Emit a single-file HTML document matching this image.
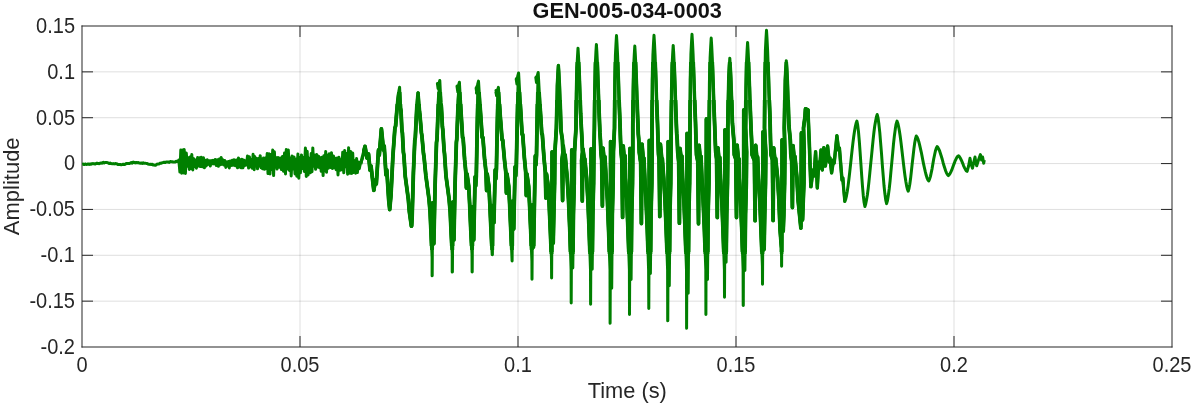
<!DOCTYPE html>
<html><head><meta charset="utf-8"><title>GEN-005-034-0003</title>
<style>
html,body{margin:0;padding:0;background:#fff;}
body{width:1193px;height:404px;overflow:hidden;position:relative;font-family:"Liberation Sans",sans-serif;}
svg text{font-family:"Liberation Sans",sans-serif;}
</style></head><body>
<svg width="1193" height="404" viewBox="0 0 1193 404" style="position:absolute;left:0;top:0;will-change:transform">
<rect width="1193" height="404" fill="#fff"/>
<rect x="299.50" y="26.00" width="1" height="321.00" fill="rgba(38,38,38,0.15)"/>
<rect x="517.50" y="26.00" width="1" height="321.00" fill="rgba(38,38,38,0.15)"/>
<rect x="735.50" y="26.00" width="1" height="321.00" fill="rgba(38,38,38,0.15)"/>
<rect x="953.50" y="26.00" width="1" height="321.00" fill="rgba(38,38,38,0.15)"/>
<rect x="82.00" y="71.36" width="1090.00" height="1" fill="rgba(38,38,38,0.15)"/>
<rect x="82.00" y="117.21" width="1090.00" height="1" fill="rgba(38,38,38,0.15)"/>
<rect x="82.00" y="163.07" width="1090.00" height="1" fill="rgba(38,38,38,0.15)"/>
<rect x="82.00" y="208.93" width="1090.00" height="1" fill="rgba(38,38,38,0.15)"/>
<rect x="82.00" y="254.79" width="1090.00" height="1" fill="rgba(38,38,38,0.15)"/>
<rect x="82.00" y="300.64" width="1090.00" height="1" fill="rgba(38,38,38,0.15)"/>
<rect x="81.50" y="25.50" width="1091.00" height="1" fill="#262626"/>
<rect x="81.50" y="346.50" width="1091.00" height="1" fill="#262626"/>
<rect x="81.50" y="25.50" width="1" height="322.00" fill="#262626"/>
<rect x="1171.50" y="25.50" width="1" height="322.00" fill="#262626"/>
<rect x="299.50" y="26.00" width="1" height="11" fill="#262626"/>
<rect x="299.50" y="336.00" width="1" height="11" fill="#262626"/>
<rect x="517.50" y="26.00" width="1" height="11" fill="#262626"/>
<rect x="517.50" y="336.00" width="1" height="11" fill="#262626"/>
<rect x="735.50" y="26.00" width="1" height="11" fill="#262626"/>
<rect x="735.50" y="336.00" width="1" height="11" fill="#262626"/>
<rect x="953.50" y="26.00" width="1" height="11" fill="#262626"/>
<rect x="953.50" y="336.00" width="1" height="11" fill="#262626"/>
<rect x="82.00" y="71.36" width="11" height="1" fill="#262626"/>
<rect x="1161.00" y="71.36" width="11" height="1" fill="#262626"/>
<rect x="82.00" y="117.21" width="11" height="1" fill="#262626"/>
<rect x="1161.00" y="117.21" width="11" height="1" fill="#262626"/>
<rect x="82.00" y="163.07" width="11" height="1" fill="#262626"/>
<rect x="1161.00" y="163.07" width="11" height="1" fill="#262626"/>
<rect x="82.00" y="208.93" width="11" height="1" fill="#262626"/>
<rect x="1161.00" y="208.93" width="11" height="1" fill="#262626"/>
<rect x="82.00" y="254.79" width="11" height="1" fill="#262626"/>
<rect x="1161.00" y="254.79" width="11" height="1" fill="#262626"/>
<rect x="82.00" y="300.64" width="11" height="1" fill="#262626"/>
<rect x="1161.00" y="300.64" width="11" height="1" fill="#262626"/>
<defs><clipPath id="band"><rect x="362" y="104" width="183" height="142"/><rect x="545" y="100" width="265" height="152"/></clipPath><clipPath id="band2"><rect x="362" y="92" width="183" height="158"/><rect x="545" y="62" width="300" height="192"/></clipPath></defs>
<path d="M82.2 164.2 L83.2 164.1 L84.2 164.6 L85.2 164.0 L86.2 164.4 L87.2 164.3 L88.2 164.0 L89.2 164.4 L90.2 163.9 L91.2 164.2 L92.2 163.7 L93.2 163.6 L94.2 163.8 L95.2 164.1 L96.2 163.3 L97.2 163.3 L98.2 163.6 L99.2 163.7 L100.2 163.2 L101.2 162.9 L102.2 163.3 L103.2 162.3 L104.2 163.0 L105.2 162.5 L106.2 162.5 L107.2 162.6 L108.2 162.9 L109.2 163.6 L110.2 163.1 L111.2 163.6 L112.2 163.8 L113.2 163.6 L114.2 163.9 L115.2 163.6 L116.2 163.7 L117.2 164.0 L118.2 164.6 L119.2 164.4 L120.2 164.4 L121.2 164.8 L122.2 164.6 L123.2 164.2 L124.2 164.5 L125.2 164.2 L126.2 163.5 L127.2 163.6 L128.2 163.4 L129.2 163.6 L130.2 163.2 L131.2 162.6 L132.2 163.1 L133.2 162.1 L134.2 162.5 L135.2 162.9 L136.2 162.4 L137.2 162.8 L138.2 162.4 L139.2 163.1 L140.2 163.2 L141.2 163.0 L142.2 163.4 L143.2 162.8 L144.2 163.3 L145.2 163.2 L146.2 163.4 L147.2 163.5 L148.2 164.1 L149.2 164.4 L150.2 164.2 L151.2 164.6 L152.2 164.2 L153.2 165.0 L154.2 165.1 L155.2 165.3 L156.2 164.8 L157.2 164.1 L158.2 163.9 L159.2 164.0 L160.2 163.1 L161.2 163.3 L162.2 162.7 L163.2 162.5 L164.2 162.2 L165.2 162.6 L166.2 161.9 L167.2 161.9 L168.2 162.0 L169.2 162.4 L170.2 161.5 L171.2 161.8 L172.2 161.8 L173.2 162.1 L174.2 162.0 L175.2 162.0 L176.2 161.3 L177.2 161.4 L178.2 161.3 L178.8 160.0 L179.9 172.1 L180.8 150.1 L181.6 173.3 L182.6 150.1 L183.3 172.9 L184.2 149.5 L185.4 173.5 L186.3 153.0 L187.3 166.2 L188.4 157.8 L189.3 169.4 L190.1 157.0 L191.0 168.5 L191.8 154.6 L192.8 170.0 L193.7 158.8 L194.8 166.6 L195.6 159.9 L196.4 168.2 L197.6 157.6 L198.3 166.0 L199.4 157.8 L200.2 166.6 L201.3 157.3 L202.4 166.8 L203.5 157.8 L204.4 167.8 L205.3 160.3 L206.2 165.9 L207.3 159.7 L208.2 164.4 L209.3 160.7 L210.3 166.0 L211.4 160.6 L212.3 163.8 L213.2 160.4 L214.1 163.9 L215.2 159.5 L216.3 165.5 L217.4 159.7 L218.4 166.3 L219.4 158.9 L220.3 164.7 L221.2 157.5 L222.1 164.2 L222.9 159.7 L223.9 165.1 L224.8 160.4 L225.8 167.4 L226.6 161.9 L227.4 166.1 L228.4 161.4 L229.3 167.9 L230.2 161.0 L231.2 165.5 L232.3 160.3 L233.2 165.3 L234.1 159.8 L235.3 165.8 L236.4 160.0 L237.5 167.8 L238.5 157.9 L239.5 167.0 L240.3 159.7 L241.1 167.8 L241.9 159.3 L242.9 167.8 L243.7 160.1 L244.6 165.8 L245.6 160.7 L246.5 165.0 L247.5 156.0 L248.6 168.1 L249.4 156.7 L250.3 166.7 L251.1 159.4 L252.1 168.2 L253.1 154.3 L254.2 169.7 L254.9 156.8 L255.8 166.0 L256.7 158.5 L257.5 168.8 L258.3 158.5 L259.4 166.1 L260.2 155.7 L261.0 167.7 L261.8 159.0 L262.6 168.8 L263.5 158.0 L264.5 169.3 L265.4 158.0 L266.4 168.6 L267.2 153.6 L268.0 173.6 L269.1 153.8 L270.0 174.0 L270.8 154.5 L271.8 169.5 L272.7 150.1 L273.6 175.6 L274.4 151.8 L275.1 167.1 L276.0 157.4 L277.0 169.0 L278.1 157.4 L279.3 167.3 L280.3 158.0 L281.4 169.6 L282.5 156.4 L283.4 171.2 L284.5 153.0 L285.5 174.0 L286.3 149.5 L287.3 168.9 L288.3 149.9 L289.4 170.5 L290.4 158.2 L291.2 176.0 L292.1 156.0 L293.0 169.0 L294.0 156.9 L295.0 173.9 L296.1 159.3 L296.8 176.2 L297.9 154.1 L298.8 178.2 L299.6 157.8 L300.4 172.8 L301.5 154.9 L302.7 168.6 L303.5 157.4 L304.3 171.5 L305.4 148.1 L306.3 176.4 L307.2 151.2 L308.1 174.9 L309.2 158.3 L310.2 172.8 L311.2 153.6 L312.0 171.8 L312.8 147.9 L313.7 166.3 L314.5 155.1 L315.6 169.3 L316.7 154.4 L317.8 167.1 L318.7 156.3 L319.6 167.8 L320.4 157.7 L321.2 171.3 L322.1 157.3 L323.1 175.6 L323.9 155.7 L324.7 170.7 L325.7 151.5 L326.5 172.3 L327.5 155.3 L328.4 168.2 L329.3 153.7 L330.5 167.4 L331.5 152.8 L332.3 168.5 L333.5 155.9 L334.2 167.7 L335.3 158.3 L336.1 169.7 L337.2 157.9 L338.0 175.0 L339.0 157.3 L340.0 170.3 L341.0 159.7 L341.9 169.8 L342.7 152.3 L343.8 172.8 L344.7 150.4 L345.5 166.8 L346.6 153.6 L347.6 174.2 L348.6 147.7 L349.6 173.3 L350.7 151.6 L351.7 173.4 L352.7 153.1 L353.6 172.4 L354.6 160.7 L355.6 173.2 L356.6 158.6 L357.4 172.6 L358.2 161.9 L359.3 168.8 L360.0 165.3 L362.0 158.0 L365.0 146.4 L367.0 158.0 L368.5 154.0 L370.0 170.0 L371.0 166.0 L373.8 190.4 L375.5 180.0 L376.3 184.0 L378.5 150.0 L379.3 155.0 L381.4 128.8 L383.5 150.0 L384.2 146.0 L386.0 175.0 L386.8 170.0 L388.7 200.0 L389.7 209.5 L391.0 195.0 L392.9 156.2 L394.9 128.2 L395.6 126.0 L397.7 100.1 L398.9 91.0 L399.6 87.2 L400.5 107.9 L401.0 110.9 L401.9 130.1 L402.4 133.1 L403.4 152.3 L403.9 155.3 L405.2 176.0 L408.3 199.0 L409.4 212.0 L411.4 226.2 L411.6 226.2 L412.1 218.2 L413.4 172.9 L414.8 140.2 L415.3 137.7 L416.8 107.5 L417.6 96.8 L418.1 92.4 L419.5 111.8 L419.9 114.8 L421.4 132.7 L421.9 135.7 L423.5 153.6 L424.0 156.6 L425.9 176.0 L429.0 199.0 L430.1 212.0 L431.0 232.0 L432.1 257.8 L432.1 275.8 L432.2 275.8 L432.6 203.0 L433.3 223.9 L433.8 243.8 L435.1 185.0 L436.5 142.6 L437.0 139.3 L438.5 100.1 L439.3 86.2 L437.4 83.5 L438.1 88.5 L439.0 83.5 L439.8 80.5 L440.9 102.9 L441.3 105.9 L442.4 126.8 L442.8 129.8 L444.1 150.6 L444.5 153.6 L446.0 176.0 L449.1 199.0 L450.2 212.0 L451.1 232.0 L452.2 254.0 L452.2 272.0 L452.4 272.0 L452.8 202.1 L453.4 222.0 L453.9 240.0 L455.1 183.2 L456.4 142.2 L456.8 139.0 L458.2 101.1 L459.0 87.7 L457.0 86.2 L457.7 91.2 L458.6 85.2 L459.4 82.2 L461.0 111.8 L462.6 137.9 L463.1 137.9 L464.6 159.4 L465.8 172.0 L466.4 188.0 L467.0 174.0 L468.7 186.0 L469.6 203.0 L470.8 230.0 L472.0 254.0 L472.1 272.0 L472.2 272.0 L472.6 206.6 L473.2 222.0 L473.7 240.0 L475.1 177.0 L475.7 186.0 L476.3 176.0 L477.4 119.1 L478.1 90.6 L478.3 83.9 L476.1 88.1 L476.8 93.1 L477.7 84.1 L478.5 81.1 L480.4 111.1 L482.2 137.5 L482.9 137.5 L484.6 159.3 L486.0 172.0 L486.6 190.5 L487.2 174.0 L488.9 186.0 L489.8 203.0 L491.0 230.0 L492.2 254.8 L492.4 254.8 L492.8 205.5 L493.4 213.4 L493.9 222.8 L495.2 170.0 L495.8 179.0 L496.4 169.0 L497.4 120.0 L498.0 95.6 L498.3 89.8 L496.0 90.4 L496.7 95.4 L497.6 90.4 L498.4 87.4 L500.2 115.3 L502.1 139.9 L502.7 139.9 L504.5 160.2 L505.8 172.0 L506.4 193.0 L507.0 174.0 L508.7 186.0 L509.6 203.0 L510.8 230.0 L512.1 261.0 L512.1 261.0 L512.6 201.2 L513.2 216.5 L513.7 229.0 L515.1 167.0 L515.7 176.0 L516.3 166.0 L517.5 110.2 L518.1 82.3 L518.4 75.8 L516.2 79.0 L516.9 84.0 L517.8 76.0 L518.6 73.0 L520.4 105.7 L522.1 134.4 L522.7 134.4 L524.4 158.1 L525.7 172.0 L526.3 195.5 L526.9 174.0 L528.6 186.0 L529.5 203.0 L530.7 230.0 L531.9 261.3 L532.0 279.3 L532.0 279.3 L532.5 205.0 L533.1 225.7 L533.6 247.3 L535.3 156.0 L535.9 165.0 L536.5 155.0 L537.4 105.5 L537.9 80.8 L538.1 75.0 L535.8 77.5 L536.5 82.5 L537.4 75.5 L538.2 72.5 L540.0 105.3 L541.8 134.2 L542.3 134.2 L544.0 158.1 L545.3 172.0 L545.9 198.0 L546.5 174.0 L548.2 186.0 L549.1 203.0 L550.3 230.0 L551.5 260.0 L551.6 278.0 L551.6 278.0 L552.0 215.0 L552.1 152.0 L552.8 197.5 L553.2 243.0 L553.8 215.0 L554.6 183.0 L554.9 152.0 L556.4 128.0 L556.8 110.5 L557.3 85.5 L557.9 73.5 L558.4 65.5 L558.9 73.5 L559.5 85.5 L560.4 110.5 L561.0 130.5 L562.4 140.0 L562.9 152.5 L561.9 160.5 L562.6 200.5 L563.2 145.7 L564.6 159.7 L565.1 155.0 L567.2 178.0 L568.5 200.0 L569.8 230.0 L571.1 270.0 L571.2 303.1 L571.2 303.1 L571.6 226.6 L571.8 150.0 L572.4 209.1 L572.8 268.1 L573.4 215.0 L574.2 183.0 L574.5 152.0 L576.0 128.0 L576.4 93.2 L576.9 68.2 L577.5 56.2 L578.0 48.2 L578.5 56.2 L579.1 68.2 L580.0 93.2 L580.6 113.2 L582.0 140.0 L582.5 152.1 L581.6 160.4 L582.3 201.0 L582.9 148.8 L584.3 159.5 L584.8 158.9 L586.6 178.0 L587.9 200.0 L589.1 230.0 L590.5 270.0 L590.6 304.3 L590.6 304.3 L591.0 226.7 L591.1 149.0 L591.8 209.2 L592.2 269.3 L592.8 215.0 L593.6 183.0 L593.9 152.0 L594.4 128.0 L594.8 89.4 L595.3 64.4 L595.9 52.4 L596.4 44.4 L596.9 52.4 L597.5 64.4 L598.4 89.4 L599.0 109.4 L599.9 132.4 L600.4 140.0 L600.9 151.8 L601.7 160.4 L602.4 206.0 L603.0 148.1 L604.4 162.3 L604.9 156.7 L606.1 178.0 L607.4 200.0 L608.6 230.0 L610.0 270.0 L610.1 323.2 L610.1 323.2 L610.5 232.4 L610.6 141.6 L611.2 214.9 L611.7 288.2 L612.3 215.0 L613.1 183.0 L613.4 152.0 L614.5 128.0 L614.9 80.6 L615.4 55.6 L616.0 43.6 L616.5 35.6 L617.0 43.6 L617.6 55.6 L618.5 80.6 L619.1 100.6 L620.0 123.6 L620.5 140.0 L621.0 151.2 L621.9 160.9 L622.6 217.4 L623.2 145.9 L624.6 162.7 L625.1 155.8 L625.5 178.0 L626.8 200.0 L628.0 230.0 L629.4 270.0 L629.5 314.4 L629.5 314.4 L629.9 231.4 L630.0 148.5 L630.6 213.9 L631.1 279.4 L631.7 215.0 L632.5 183.0 L632.8 152.0 L632.8 128.0 L633.2 91.1 L633.7 66.1 L634.3 54.1 L634.8 46.1 L635.3 54.1 L635.9 66.1 L636.8 91.1 L637.4 111.1 L638.3 134.1 L638.8 140.0 L639.3 152.5 L640.7 162.6 L641.4 223.6 L642.0 144.2 L643.4 160.6 L643.9 158.2 L644.8 178.0 L646.0 200.0 L647.3 230.0 L648.6 270.0 L648.8 308.6 L648.8 308.6 L649.1 224.5 L649.3 140.4 L649.9 207.0 L650.4 273.6 L651.0 215.0 L651.8 183.0 L652.1 152.0 L652.0 128.0 L652.4 80.3 L652.9 55.3 L653.5 43.3 L654.0 35.3 L654.5 43.3 L655.1 55.3 L656.0 80.3 L656.6 100.3 L657.5 123.3 L658.0 140.0 L658.5 154.1 L659.1 159.2 L659.8 216.5 L660.4 144.2 L661.8 159.3 L662.3 158.7 L663.7 178.0 L665.0 200.0 L666.2 230.0 L667.6 270.0 L667.7 320.7 L667.8 320.7 L668.1 231.1 L668.2 141.6 L668.9 213.6 L669.3 285.7 L669.9 215.0 L670.7 183.0 L671.0 152.0 L671.2 128.0 L671.6 90.4 L672.1 65.4 L672.7 53.4 L673.2 45.4 L673.7 53.4 L674.3 65.4 L675.2 90.4 L675.8 110.4 L676.7 133.4 L677.2 140.0 L677.7 152.0 L678.7 162.0 L679.4 223.2 L680.0 148.5 L681.4 160.4 L681.9 156.1 L682.6 178.0 L683.9 200.0 L685.1 230.0 L686.5 270.0 L686.6 328.2 L686.6 328.2 L687.0 230.8 L687.1 133.4 L687.8 213.3 L688.2 293.2 L688.8 215.0 L689.6 183.0 L689.9 152.0 L690.0 128.0 L690.4 79.3 L690.9 54.3 L691.5 42.3 L692.0 34.3 L692.5 42.3 L693.1 54.3 L694.0 79.3 L694.6 99.3 L695.5 122.3 L696.0 140.0 L696.5 154.8 L697.8 161.5 L698.5 223.8 L699.1 145.3 L700.5 161.9 L701.0 156.3 L701.9 178.0 L703.1 200.0 L704.4 230.0 L705.8 270.0 L705.9 314.4 L705.9 314.4 L706.2 216.7 L706.4 119.0 L707.0 199.2 L707.5 279.4 L708.1 215.0 L708.9 183.0 L709.2 152.0 L709.2 128.0 L709.6 83.1 L710.1 58.1 L710.7 46.1 L711.2 38.1 L711.7 46.1 L712.3 58.1 L713.2 83.1 L713.8 103.1 L714.7 126.1 L715.2 140.0 L715.7 152.1 L716.6 159.0 L717.3 217.6 L717.9 147.8 L719.3 162.7 L719.8 157.5 L720.5 178.0 L721.8 200.0 L723.0 230.0 L724.4 270.0 L724.5 297.3 L724.5 297.3 L724.9 213.7 L725.0 130.0 L725.6 196.2 L726.1 262.3 L726.7 215.0 L727.5 183.0 L727.8 152.0 L727.8 128.0 L728.2 103.2 L728.7 78.2 L729.3 66.2 L729.8 58.2 L730.3 66.2 L730.9 78.2 L731.8 103.2 L732.4 123.2 L733.8 140.0 L734.3 154.8 L735.8 159.1 L736.5 217.6 L737.1 145.2 L738.5 160.9 L739.0 158.8 L739.3 178.0 L740.5 200.0 L741.8 230.0 L743.1 270.0 L743.2 305.6 L743.3 305.6 L743.6 207.8 L743.8 110.0 L744.4 190.3 L744.9 270.6 L745.5 215.0 L746.3 183.0 L746.6 152.0 L745.6 128.0 L746.0 87.4 L746.5 62.4 L747.1 50.4 L747.6 42.4 L748.1 50.4 L748.7 62.4 L749.6 87.4 L750.2 107.4 L751.1 130.4 L751.6 140.0 L752.1 154.8 L754.4 160.5 L755.1 220.7 L755.7 145.3 L757.1 160.7 L757.6 157.0 L758.5 178.0 L759.8 200.0 L761.0 230.0 L762.4 266.2 L762.5 284.2 L762.5 284.2 L762.9 208.1 L763.0 132.0 L763.6 190.6 L764.1 249.2 L764.7 215.0 L765.5 183.0 L765.8 152.0 L764.5 128.0 L764.9 75.3 L765.4 50.3 L766.0 38.3 L766.5 30.3 L767.0 38.3 L767.6 50.3 L768.5 75.3 L769.1 95.3 L770.0 118.3 L770.5 140.0 L771.0 154.7 L772.4 159.7 L773.1 220.5 L773.7 148.0 L775.1 162.0 L775.6 158.3 L777.6 178.0 L778.9 200.0 L780.1 230.0 L781.5 248.2 L781.6 266.2 L781.6 266.2 L782.0 203.1 L782.1 140.0 L782.8 185.6 L783.2 231.2 L783.8 215.0 L784.6 183.0 L784.9 152.0 L784.3 128.0 L784.7 105.7 L785.2 80.7 L785.8 68.7 L786.3 60.7 L786.8 68.7 L787.4 80.7 L788.3 105.7 L788.9 125.7 L790.3 140.0 L790.8 154.1 L791.7 161.4 L792.4 207.5 L793.0 145.6 L794.4 160.3 L794.9 156.4 L796.9 178.0 L798.1 200.0 L800.9 228.0 L800.9 228.0 L801.2 180.5 L801.4 133.0 L802.0 176.5 L802.5 220.0 L803.9 183.0 L804.2 152.0 L803.5 128.0 L805.0 116.8 L805.5 108.8 L808.0 110.0 L809.3 140.0 L811.0 186.7 L813.0 170.0 L814.0 176.0 L815.6 151.7 L817.3 188.0 L818.8 162.0 L819.6 168.0 L821.0 150.0 L822.3 170.0 L823.8 147.6 L825.4 166.0 L827.6 146.0 L829.3 162.0 L830.0 158.0 L831.6 172.9 L833.5 160.0 L834.2 163.0 L836.9 135.7 L838.6 150.0 L839.4 148.0 L842.0 180.0 L842.8 178.0 L844.9 201.4 L845.7 199.2 L846.5 195.8 L847.3 191.2 L848.1 185.7 L848.9 179.3 L849.7 172.3 L850.5 165.0 L851.3 157.5 L852.1 150.2 L852.9 143.2 L853.7 136.8 L854.5 131.3 L855.3 126.7 L856.1 123.3 L856.9 121.1 L857.7 125.1 L858.5 131.9 L859.3 141.1 L860.1 152.0 L860.9 163.8 L861.7 175.6 L862.5 186.5 L863.3 195.7 L864.1 202.5 L864.9 206.5 L865.7 204.0 L866.5 200.0 L867.4 194.8 L868.2 188.5 L869.0 181.2 L869.8 173.2 L870.6 164.8 L871.5 156.2 L872.3 147.8 L873.1 139.8 L873.9 132.5 L874.7 126.2 L875.6 121.0 L876.4 117.0 L877.2 114.5 L878.1 118.2 L878.9 124.3 L879.8 132.6 L880.6 142.5 L881.5 153.4 L882.3 164.7 L883.2 175.6 L884.0 185.5 L884.9 193.8 L885.7 199.9 L886.6 203.6 L887.5 200.6 L888.3 195.6 L889.2 189.0 L890.1 180.9 L890.9 171.9 L891.8 162.3 L892.7 152.8 L893.5 143.8 L894.4 135.7 L895.3 129.1 L896.1 124.1 L897.0 121.1 L897.8 123.2 L898.6 126.5 L899.4 131.0 L900.2 136.3 L901.0 142.5 L901.8 149.2 L902.6 156.1 L903.4 163.1 L904.2 169.8 L905.0 176.0 L905.8 181.3 L906.6 185.8 L907.4 189.1 L908.2 191.2 L909.0 188.6 L909.8 184.2 L910.6 178.3 L911.4 171.2 L912.2 163.6 L913.1 156.0 L913.9 148.9 L914.7 143.0 L915.5 138.6 L916.3 136.0 L917.1 137.2 L918.0 139.2 L918.8 141.7 L919.6 144.8 L920.4 148.4 L921.3 152.3 L922.1 156.4 L922.9 160.6 L923.7 164.7 L924.6 168.6 L925.4 172.2 L926.2 175.3 L927.0 177.8 L927.9 179.8 L928.7 181.0 L929.5 179.4 L930.4 176.6 L931.2 172.9 L932.1 168.6 L932.9 163.8 L933.7 159.0 L934.6 154.7 L935.4 151.0 L936.3 148.2 L937.1 146.6 L938.0 147.6 L938.8 149.1 L939.7 151.2 L940.5 153.7 L941.4 156.5 L942.3 159.5 L943.1 162.7 L944.0 165.7 L944.9 168.5 L945.7 171.0 L946.6 173.1 L947.4 174.6 L948.3 175.6 L949.1 174.9 L950.0 173.7 L950.8 172.1 L951.7 170.2 L952.5 168.0 L953.3 165.7 L954.2 163.4 L955.0 161.2 L955.9 159.3 L956.7 157.7 L957.6 156.5 L958.4 155.8 L959.3 156.5 L960.1 157.8 L961.0 159.5 L961.9 161.4 L962.8 163.6 L963.6 165.8 L964.5 167.7 L965.4 169.4 L966.2 170.7 L967.1 171.4 L968.6 166.0 L970.0 158.3 L971.0 164.0 L972.5 168.2 L973.8 162.0 L975.0 157.0 L975.9 163.0 L976.7 165.7 L978.5 160.0 L980.4 154.6 L981.5 160.0 L982.6 157.0 L983.7 163.2 L984.3 160.0" fill="none" stroke="#007f00" stroke-width="3" stroke-linejoin="round" stroke-linecap="butt"/>
<path d="M360.0 165.3 L362.0 158.0 L365.0 146.4 L367.0 158.0 L368.5 154.0 L370.0 170.0 L371.0 166.0 L373.8 190.4 L375.5 180.0 L376.3 184.0 L378.5 150.0 L379.3 155.0 L381.4 128.8 L383.5 150.0 L384.2 146.0 L386.0 175.0 L386.8 170.0 L388.7 200.0 L389.7 209.5 L391.0 195.0 L392.9 156.2 L394.9 128.2 L395.6 126.0 L397.7 100.1 L398.9 91.0 L399.6 87.2 L400.5 107.9 L401.0 110.9 L401.9 130.1 L402.4 133.1 L403.4 152.3 L403.9 155.3 L405.2 176.0 L408.3 199.0 L409.4 212.0 L411.4 226.2 L411.6 226.2 L412.1 218.2 L413.4 172.9 L414.8 140.2 L415.3 137.7 L416.8 107.5 L417.6 96.8 L418.1 92.4 L419.5 111.8 L419.9 114.8 L421.4 132.7 L421.9 135.7 L423.5 153.6 L424.0 156.6 L425.9 176.0 L429.0 199.0 L430.1 212.0 L431.0 232.0 L432.1 257.8 L432.1 275.8 L432.2 275.8 L432.6 203.0 L433.3 223.9 L433.8 243.8 L435.1 185.0 L436.5 142.6 L437.0 139.3 L438.5 100.1 L439.3 86.2 L437.4 83.5 L438.1 88.5 L439.0 83.5 L439.8 80.5 L440.9 102.9 L441.3 105.9 L442.4 126.8 L442.8 129.8 L444.1 150.6 L444.5 153.6 L446.0 176.0 L449.1 199.0 L450.2 212.0 L451.1 232.0 L452.2 254.0 L452.2 272.0 L452.4 272.0 L452.8 202.1 L453.4 222.0 L453.9 240.0 L455.1 183.2 L456.4 142.2 L456.8 139.0 L458.2 101.1 L459.0 87.7 L457.0 86.2 L457.7 91.2 L458.6 85.2 L459.4 82.2 L461.0 111.8 L462.6 137.9 L463.1 137.9 L464.6 159.4 L465.8 172.0 L466.4 188.0 L467.0 174.0 L468.7 186.0 L469.6 203.0 L470.8 230.0 L472.0 254.0 L472.1 272.0 L472.2 272.0 L472.6 206.6 L473.2 222.0 L473.7 240.0 L475.1 177.0 L475.7 186.0 L476.3 176.0 L477.4 119.1 L478.1 90.6 L478.3 83.9 L476.1 88.1 L476.8 93.1 L477.7 84.1 L478.5 81.1 L480.4 111.1 L482.2 137.5 L482.9 137.5 L484.6 159.3 L486.0 172.0 L486.6 190.5 L487.2 174.0 L488.9 186.0 L489.8 203.0 L491.0 230.0 L492.2 254.8 L492.4 254.8 L492.8 205.5 L493.4 213.4 L493.9 222.8 L495.2 170.0 L495.8 179.0 L496.4 169.0 L497.4 120.0 L498.0 95.6 L498.3 89.8 L496.0 90.4 L496.7 95.4 L497.6 90.4 L498.4 87.4 L500.2 115.3 L502.1 139.9 L502.7 139.9 L504.5 160.2 L505.8 172.0 L506.4 193.0 L507.0 174.0 L508.7 186.0 L509.6 203.0 L510.8 230.0 L512.1 261.0 L512.1 261.0 L512.6 201.2 L513.2 216.5 L513.7 229.0 L515.1 167.0 L515.7 176.0 L516.3 166.0 L517.5 110.2 L518.1 82.3 L518.4 75.8 L516.2 79.0 L516.9 84.0 L517.8 76.0 L518.6 73.0 L520.4 105.7 L522.1 134.4 L522.7 134.4 L524.4 158.1 L525.7 172.0 L526.3 195.5 L526.9 174.0 L528.6 186.0 L529.5 203.0 L530.7 230.0 L531.9 261.3 L532.0 279.3 L532.0 279.3 L532.5 205.0 L533.1 225.7 L533.6 247.3 L535.3 156.0 L535.9 165.0 L536.5 155.0 L537.4 105.5 L537.9 80.8 L538.1 75.0 L535.8 77.5 L536.5 82.5 L537.4 75.5 L538.2 72.5 L540.0 105.3 L541.8 134.2 L542.3 134.2 L544.0 158.1 L545.3 172.0 L545.9 198.0 L546.5 174.0 L548.2 186.0 L549.1 203.0 L550.3 230.0 L551.5 260.0 L551.6 278.0 L551.6 278.0 L552.0 215.0 L552.1 152.0 L552.8 197.5 L553.2 243.0 L553.8 215.0 L554.6 183.0 L554.9 152.0 L556.4 128.0 L556.8 110.5 L557.3 85.5 L557.9 73.5 L558.4 65.5 L558.9 73.5 L559.5 85.5 L560.4 110.5 L561.0 130.5 L562.4 140.0 L562.9 152.5 L561.9 160.5 L562.6 200.5 L563.2 145.7 L564.6 159.7 L565.1 155.0 L567.2 178.0 L568.5 200.0 L569.8 230.0 L571.1 270.0 L571.2 303.1 L571.2 303.1 L571.6 226.6 L571.8 150.0 L572.4 209.1 L572.8 268.1 L573.4 215.0 L574.2 183.0 L574.5 152.0 L576.0 128.0 L576.4 93.2 L576.9 68.2 L577.5 56.2 L578.0 48.2 L578.5 56.2 L579.1 68.2 L580.0 93.2 L580.6 113.2 L582.0 140.0 L582.5 152.1 L581.6 160.4 L582.3 201.0 L582.9 148.8 L584.3 159.5 L584.8 158.9 L586.6 178.0 L587.9 200.0 L589.1 230.0 L590.5 270.0 L590.6 304.3 L590.6 304.3 L591.0 226.7 L591.1 149.0 L591.8 209.2 L592.2 269.3 L592.8 215.0 L593.6 183.0 L593.9 152.0 L594.4 128.0 L594.8 89.4 L595.3 64.4 L595.9 52.4 L596.4 44.4 L596.9 52.4 L597.5 64.4 L598.4 89.4 L599.0 109.4 L599.9 132.4 L600.4 140.0 L600.9 151.8 L601.7 160.4 L602.4 206.0 L603.0 148.1 L604.4 162.3 L604.9 156.7 L606.1 178.0 L607.4 200.0 L608.6 230.0 L610.0 270.0 L610.1 323.2 L610.1 323.2 L610.5 232.4 L610.6 141.6 L611.2 214.9 L611.7 288.2 L612.3 215.0 L613.1 183.0 L613.4 152.0 L614.5 128.0 L614.9 80.6 L615.4 55.6 L616.0 43.6 L616.5 35.6 L617.0 43.6 L617.6 55.6 L618.5 80.6 L619.1 100.6 L620.0 123.6 L620.5 140.0 L621.0 151.2 L621.9 160.9 L622.6 217.4 L623.2 145.9 L624.6 162.7 L625.1 155.8 L625.5 178.0 L626.8 200.0 L628.0 230.0 L629.4 270.0 L629.5 314.4 L629.5 314.4 L629.9 231.4 L630.0 148.5 L630.6 213.9 L631.1 279.4 L631.7 215.0 L632.5 183.0 L632.8 152.0 L632.8 128.0 L633.2 91.1 L633.7 66.1 L634.3 54.1 L634.8 46.1 L635.3 54.1 L635.9 66.1 L636.8 91.1 L637.4 111.1 L638.3 134.1 L638.8 140.0 L639.3 152.5 L640.7 162.6 L641.4 223.6 L642.0 144.2 L643.4 160.6 L643.9 158.2 L644.8 178.0 L646.0 200.0 L647.3 230.0 L648.6 270.0 L648.8 308.6 L648.8 308.6 L649.1 224.5 L649.3 140.4 L649.9 207.0 L650.4 273.6 L651.0 215.0 L651.8 183.0 L652.1 152.0 L652.0 128.0 L652.4 80.3 L652.9 55.3 L653.5 43.3 L654.0 35.3 L654.5 43.3 L655.1 55.3 L656.0 80.3 L656.6 100.3 L657.5 123.3 L658.0 140.0 L658.5 154.1 L659.1 159.2 L659.8 216.5 L660.4 144.2 L661.8 159.3 L662.3 158.7 L663.7 178.0 L665.0 200.0 L666.2 230.0 L667.6 270.0 L667.7 320.7 L667.8 320.7 L668.1 231.1 L668.2 141.6 L668.9 213.6 L669.3 285.7 L669.9 215.0 L670.7 183.0 L671.0 152.0 L671.2 128.0 L671.6 90.4 L672.1 65.4 L672.7 53.4 L673.2 45.4 L673.7 53.4 L674.3 65.4 L675.2 90.4 L675.8 110.4 L676.7 133.4 L677.2 140.0 L677.7 152.0 L678.7 162.0 L679.4 223.2 L680.0 148.5 L681.4 160.4 L681.9 156.1 L682.6 178.0 L683.9 200.0 L685.1 230.0 L686.5 270.0 L686.6 328.2 L686.6 328.2 L687.0 230.8 L687.1 133.4 L687.8 213.3 L688.2 293.2 L688.8 215.0 L689.6 183.0 L689.9 152.0 L690.0 128.0 L690.4 79.3 L690.9 54.3 L691.5 42.3 L692.0 34.3 L692.5 42.3 L693.1 54.3 L694.0 79.3 L694.6 99.3 L695.5 122.3 L696.0 140.0 L696.5 154.8 L697.8 161.5 L698.5 223.8 L699.1 145.3 L700.5 161.9 L701.0 156.3 L701.9 178.0 L703.1 200.0 L704.4 230.0 L705.8 270.0 L705.9 314.4 L705.9 314.4 L706.2 216.7 L706.4 119.0 L707.0 199.2 L707.5 279.4 L708.1 215.0 L708.9 183.0 L709.2 152.0 L709.2 128.0 L709.6 83.1 L710.1 58.1 L710.7 46.1 L711.2 38.1 L711.7 46.1 L712.3 58.1 L713.2 83.1 L713.8 103.1 L714.7 126.1 L715.2 140.0 L715.7 152.1 L716.6 159.0 L717.3 217.6 L717.9 147.8 L719.3 162.7 L719.8 157.5 L720.5 178.0 L721.8 200.0 L723.0 230.0 L724.4 270.0 L724.5 297.3 L724.5 297.3 L724.9 213.7 L725.0 130.0 L725.6 196.2 L726.1 262.3 L726.7 215.0 L727.5 183.0 L727.8 152.0 L727.8 128.0 L728.2 103.2 L728.7 78.2 L729.3 66.2 L729.8 58.2 L730.3 66.2 L730.9 78.2 L731.8 103.2 L732.4 123.2 L733.8 140.0 L734.3 154.8 L735.8 159.1 L736.5 217.6 L737.1 145.2 L738.5 160.9 L739.0 158.8 L739.3 178.0 L740.5 200.0 L741.8 230.0 L743.1 270.0 L743.2 305.6 L743.3 305.6 L743.6 207.8 L743.8 110.0 L744.4 190.3 L744.9 270.6 L745.5 215.0 L746.3 183.0 L746.6 152.0 L745.6 128.0 L746.0 87.4 L746.5 62.4 L747.1 50.4 L747.6 42.4 L748.1 50.4 L748.7 62.4 L749.6 87.4 L750.2 107.4 L751.1 130.4 L751.6 140.0 L752.1 154.8 L754.4 160.5 L755.1 220.7 L755.7 145.3 L757.1 160.7 L757.6 157.0 L758.5 178.0 L759.8 200.0 L761.0 230.0 L762.4 266.2 L762.5 284.2 L762.5 284.2 L762.9 208.1 L763.0 132.0 L763.6 190.6 L764.1 249.2 L764.7 215.0 L765.5 183.0 L765.8 152.0 L764.5 128.0 L764.9 75.3 L765.4 50.3 L766.0 38.3 L766.5 30.3 L767.0 38.3 L767.6 50.3 L768.5 75.3 L769.1 95.3 L770.0 118.3 L770.5 140.0 L771.0 154.7 L772.4 159.7 L773.1 220.5 L773.7 148.0 L775.1 162.0 L775.6 158.3 L777.6 178.0 L778.9 200.0 L780.1 230.0 L781.5 248.2 L781.6 266.2 L781.6 266.2 L782.0 203.1 L782.1 140.0 L782.8 185.6 L783.2 231.2 L783.8 215.0 L784.6 183.0 L784.9 152.0 L784.3 128.0 L784.7 105.7 L785.2 80.7 L785.8 68.7 L786.3 60.7 L786.8 68.7 L787.4 80.7 L788.3 105.7 L788.9 125.7 L790.3 140.0 L790.8 154.1 L791.7 161.4 L792.4 207.5 L793.0 145.6 L794.4 160.3 L794.9 156.4 L796.9 178.0 L798.1 200.0 L800.9 228.0 L800.9 228.0 L801.2 180.5 L801.4 133.0 L802.0 176.5 L802.5 220.0 L803.9 183.0 L804.2 152.0 L803.5 128.0 L805.0 116.8 L805.5 108.8 L808.0 110.0 L809.3 140.0 L811.0 186.7 L813.0 170.0 L814.0 176.0 L815.6 151.7 L817.3 188.0 L818.8 162.0 L819.6 168.0 L821.0 150.0 L822.3 170.0 L823.8 147.6 L825.4 166.0 L827.6 146.0 L829.3 162.0 L830.0 158.0 L831.6 172.9 L833.5 160.0 L834.2 163.0 L836.9 135.7 L838.6 150.0 L839.4 148.0 L842.0 180.0 L842.8 178.0 L844.9 201.4 L845.7 199.2" fill="none" stroke="#007f00" stroke-width="3.4" stroke-linejoin="round" stroke-linecap="butt" clip-path="url(#band2)"/>
<path d="M360.0 165.3 L362.0 158.0 L365.0 146.4 L367.0 158.0 L368.5 154.0 L370.0 170.0 L371.0 166.0 L373.8 190.4 L375.5 180.0 L376.3 184.0 L378.5 150.0 L379.3 155.0 L381.4 128.8 L383.5 150.0 L384.2 146.0 L386.0 175.0 L386.8 170.0 L388.7 200.0 L389.7 209.5 L391.0 195.0 L392.9 156.2 L394.9 128.2 L395.6 126.0 L397.7 100.1 L398.9 91.0 L399.6 87.2 L400.5 107.9 L401.0 110.9 L401.9 130.1 L402.4 133.1 L403.4 152.3 L403.9 155.3 L405.2 176.0 L408.3 199.0 L409.4 212.0 L411.4 226.2 L411.6 226.2 L412.1 218.2 L413.4 172.9 L414.8 140.2 L415.3 137.7 L416.8 107.5 L417.6 96.8 L418.1 92.4 L419.5 111.8 L419.9 114.8 L421.4 132.7 L421.9 135.7 L423.5 153.6 L424.0 156.6 L425.9 176.0 L429.0 199.0 L430.1 212.0 L431.0 232.0 L432.1 257.8 L432.1 275.8 L432.2 275.8 L432.6 203.0 L433.3 223.9 L433.8 243.8 L435.1 185.0 L436.5 142.6 L437.0 139.3 L438.5 100.1 L439.3 86.2 L437.4 83.5 L438.1 88.5 L439.0 83.5 L439.8 80.5 L440.9 102.9 L441.3 105.9 L442.4 126.8 L442.8 129.8 L444.1 150.6 L444.5 153.6 L446.0 176.0 L449.1 199.0 L450.2 212.0 L451.1 232.0 L452.2 254.0 L452.2 272.0 L452.4 272.0 L452.8 202.1 L453.4 222.0 L453.9 240.0 L455.1 183.2 L456.4 142.2 L456.8 139.0 L458.2 101.1 L459.0 87.7 L457.0 86.2 L457.7 91.2 L458.6 85.2 L459.4 82.2 L461.0 111.8 L462.6 137.9 L463.1 137.9 L464.6 159.4 L465.8 172.0 L466.4 188.0 L467.0 174.0 L468.7 186.0 L469.6 203.0 L470.8 230.0 L472.0 254.0 L472.1 272.0 L472.2 272.0 L472.6 206.6 L473.2 222.0 L473.7 240.0 L475.1 177.0 L475.7 186.0 L476.3 176.0 L477.4 119.1 L478.1 90.6 L478.3 83.9 L476.1 88.1 L476.8 93.1 L477.7 84.1 L478.5 81.1 L480.4 111.1 L482.2 137.5 L482.9 137.5 L484.6 159.3 L486.0 172.0 L486.6 190.5 L487.2 174.0 L488.9 186.0 L489.8 203.0 L491.0 230.0 L492.2 254.8 L492.4 254.8 L492.8 205.5 L493.4 213.4 L493.9 222.8 L495.2 170.0 L495.8 179.0 L496.4 169.0 L497.4 120.0 L498.0 95.6 L498.3 89.8 L496.0 90.4 L496.7 95.4 L497.6 90.4 L498.4 87.4 L500.2 115.3 L502.1 139.9 L502.7 139.9 L504.5 160.2 L505.8 172.0 L506.4 193.0 L507.0 174.0 L508.7 186.0 L509.6 203.0 L510.8 230.0 L512.1 261.0 L512.1 261.0 L512.6 201.2 L513.2 216.5 L513.7 229.0 L515.1 167.0 L515.7 176.0 L516.3 166.0 L517.5 110.2 L518.1 82.3 L518.4 75.8 L516.2 79.0 L516.9 84.0 L517.8 76.0 L518.6 73.0 L520.4 105.7 L522.1 134.4 L522.7 134.4 L524.4 158.1 L525.7 172.0 L526.3 195.5 L526.9 174.0 L528.6 186.0 L529.5 203.0 L530.7 230.0 L531.9 261.3 L532.0 279.3 L532.0 279.3 L532.5 205.0 L533.1 225.7 L533.6 247.3 L535.3 156.0 L535.9 165.0 L536.5 155.0 L537.4 105.5 L537.9 80.8 L538.1 75.0 L535.8 77.5 L536.5 82.5 L537.4 75.5 L538.2 72.5 L540.0 105.3 L541.8 134.2 L542.3 134.2 L544.0 158.1 L545.3 172.0 L545.9 198.0 L546.5 174.0 L548.2 186.0 L549.1 203.0 L550.3 230.0 L551.5 260.0 L551.6 278.0 L551.6 278.0 L552.0 215.0 L552.1 152.0 L552.8 197.5 L553.2 243.0 L553.8 215.0 L554.6 183.0 L554.9 152.0 L556.4 128.0 L556.8 110.5 L557.3 85.5 L557.9 73.5 L558.4 65.5 L558.9 73.5 L559.5 85.5 L560.4 110.5 L561.0 130.5 L562.4 140.0 L562.9 152.5 L561.9 160.5 L562.6 200.5 L563.2 145.7 L564.6 159.7 L565.1 155.0 L567.2 178.0 L568.5 200.0 L569.8 230.0 L571.1 270.0 L571.2 303.1 L571.2 303.1 L571.6 226.6 L571.8 150.0 L572.4 209.1 L572.8 268.1 L573.4 215.0 L574.2 183.0 L574.5 152.0 L576.0 128.0 L576.4 93.2 L576.9 68.2 L577.5 56.2 L578.0 48.2 L578.5 56.2 L579.1 68.2 L580.0 93.2 L580.6 113.2 L582.0 140.0 L582.5 152.1 L581.6 160.4 L582.3 201.0 L582.9 148.8 L584.3 159.5 L584.8 158.9 L586.6 178.0 L587.9 200.0 L589.1 230.0 L590.5 270.0 L590.6 304.3 L590.6 304.3 L591.0 226.7 L591.1 149.0 L591.8 209.2 L592.2 269.3 L592.8 215.0 L593.6 183.0 L593.9 152.0 L594.4 128.0 L594.8 89.4 L595.3 64.4 L595.9 52.4 L596.4 44.4 L596.9 52.4 L597.5 64.4 L598.4 89.4 L599.0 109.4 L599.9 132.4 L600.4 140.0 L600.9 151.8 L601.7 160.4 L602.4 206.0 L603.0 148.1 L604.4 162.3 L604.9 156.7 L606.1 178.0 L607.4 200.0 L608.6 230.0 L610.0 270.0 L610.1 323.2 L610.1 323.2 L610.5 232.4 L610.6 141.6 L611.2 214.9 L611.7 288.2 L612.3 215.0 L613.1 183.0 L613.4 152.0 L614.5 128.0 L614.9 80.6 L615.4 55.6 L616.0 43.6 L616.5 35.6 L617.0 43.6 L617.6 55.6 L618.5 80.6 L619.1 100.6 L620.0 123.6 L620.5 140.0 L621.0 151.2 L621.9 160.9 L622.6 217.4 L623.2 145.9 L624.6 162.7 L625.1 155.8 L625.5 178.0 L626.8 200.0 L628.0 230.0 L629.4 270.0 L629.5 314.4 L629.5 314.4 L629.9 231.4 L630.0 148.5 L630.6 213.9 L631.1 279.4 L631.7 215.0 L632.5 183.0 L632.8 152.0 L632.8 128.0 L633.2 91.1 L633.7 66.1 L634.3 54.1 L634.8 46.1 L635.3 54.1 L635.9 66.1 L636.8 91.1 L637.4 111.1 L638.3 134.1 L638.8 140.0 L639.3 152.5 L640.7 162.6 L641.4 223.6 L642.0 144.2 L643.4 160.6 L643.9 158.2 L644.8 178.0 L646.0 200.0 L647.3 230.0 L648.6 270.0 L648.8 308.6 L648.8 308.6 L649.1 224.5 L649.3 140.4 L649.9 207.0 L650.4 273.6 L651.0 215.0 L651.8 183.0 L652.1 152.0 L652.0 128.0 L652.4 80.3 L652.9 55.3 L653.5 43.3 L654.0 35.3 L654.5 43.3 L655.1 55.3 L656.0 80.3 L656.6 100.3 L657.5 123.3 L658.0 140.0 L658.5 154.1 L659.1 159.2 L659.8 216.5 L660.4 144.2 L661.8 159.3 L662.3 158.7 L663.7 178.0 L665.0 200.0 L666.2 230.0 L667.6 270.0 L667.7 320.7 L667.8 320.7 L668.1 231.1 L668.2 141.6 L668.9 213.6 L669.3 285.7 L669.9 215.0 L670.7 183.0 L671.0 152.0 L671.2 128.0 L671.6 90.4 L672.1 65.4 L672.7 53.4 L673.2 45.4 L673.7 53.4 L674.3 65.4 L675.2 90.4 L675.8 110.4 L676.7 133.4 L677.2 140.0 L677.7 152.0 L678.7 162.0 L679.4 223.2 L680.0 148.5 L681.4 160.4 L681.9 156.1 L682.6 178.0 L683.9 200.0 L685.1 230.0 L686.5 270.0 L686.6 328.2 L686.6 328.2 L687.0 230.8 L687.1 133.4 L687.8 213.3 L688.2 293.2 L688.8 215.0 L689.6 183.0 L689.9 152.0 L690.0 128.0 L690.4 79.3 L690.9 54.3 L691.5 42.3 L692.0 34.3 L692.5 42.3 L693.1 54.3 L694.0 79.3 L694.6 99.3 L695.5 122.3 L696.0 140.0 L696.5 154.8 L697.8 161.5 L698.5 223.8 L699.1 145.3 L700.5 161.9 L701.0 156.3 L701.9 178.0 L703.1 200.0 L704.4 230.0 L705.8 270.0 L705.9 314.4 L705.9 314.4 L706.2 216.7 L706.4 119.0 L707.0 199.2 L707.5 279.4 L708.1 215.0 L708.9 183.0 L709.2 152.0 L709.2 128.0 L709.6 83.1 L710.1 58.1 L710.7 46.1 L711.2 38.1 L711.7 46.1 L712.3 58.1 L713.2 83.1 L713.8 103.1 L714.7 126.1 L715.2 140.0 L715.7 152.1 L716.6 159.0 L717.3 217.6 L717.9 147.8 L719.3 162.7 L719.8 157.5 L720.5 178.0 L721.8 200.0 L723.0 230.0 L724.4 270.0 L724.5 297.3 L724.5 297.3 L724.9 213.7 L725.0 130.0 L725.6 196.2 L726.1 262.3 L726.7 215.0 L727.5 183.0 L727.8 152.0 L727.8 128.0 L728.2 103.2 L728.7 78.2 L729.3 66.2 L729.8 58.2 L730.3 66.2 L730.9 78.2 L731.8 103.2 L732.4 123.2 L733.8 140.0 L734.3 154.8 L735.8 159.1 L736.5 217.6 L737.1 145.2 L738.5 160.9 L739.0 158.8 L739.3 178.0 L740.5 200.0 L741.8 230.0 L743.1 270.0 L743.2 305.6 L743.3 305.6 L743.6 207.8 L743.8 110.0 L744.4 190.3 L744.9 270.6 L745.5 215.0 L746.3 183.0 L746.6 152.0 L745.6 128.0 L746.0 87.4 L746.5 62.4 L747.1 50.4 L747.6 42.4 L748.1 50.4 L748.7 62.4 L749.6 87.4 L750.2 107.4 L751.1 130.4 L751.6 140.0 L752.1 154.8 L754.4 160.5 L755.1 220.7 L755.7 145.3 L757.1 160.7 L757.6 157.0 L758.5 178.0 L759.8 200.0 L761.0 230.0 L762.4 266.2 L762.5 284.2 L762.5 284.2 L762.9 208.1 L763.0 132.0 L763.6 190.6 L764.1 249.2 L764.7 215.0 L765.5 183.0 L765.8 152.0 L764.5 128.0 L764.9 75.3 L765.4 50.3 L766.0 38.3 L766.5 30.3 L767.0 38.3 L767.6 50.3 L768.5 75.3 L769.1 95.3 L770.0 118.3 L770.5 140.0 L771.0 154.7 L772.4 159.7 L773.1 220.5 L773.7 148.0 L775.1 162.0 L775.6 158.3 L777.6 178.0 L778.9 200.0 L780.1 230.0 L781.5 248.2 L781.6 266.2 L781.6 266.2 L782.0 203.1 L782.1 140.0 L782.8 185.6 L783.2 231.2 L783.8 215.0 L784.6 183.0 L784.9 152.0 L784.3 128.0 L784.7 105.7 L785.2 80.7 L785.8 68.7 L786.3 60.7 L786.8 68.7 L787.4 80.7 L788.3 105.7 L788.9 125.7 L790.3 140.0 L790.8 154.1 L791.7 161.4 L792.4 207.5 L793.0 145.6 L794.4 160.3 L794.9 156.4 L796.9 178.0 L798.1 200.0 L800.9 228.0 L800.9 228.0 L801.2 180.5 L801.4 133.0 L802.0 176.5 L802.5 220.0 L803.9 183.0 L804.2 152.0 L803.5 128.0 L805.0 116.8 L805.5 108.8 L808.0 110.0 L809.3 140.0 L811.0 186.7 L813.0 170.0 L814.0 176.0 L815.6 151.7 L817.3 188.0 L818.8 162.0 L819.6 168.0 L821.0 150.0 L822.3 170.0 L823.8 147.6 L825.4 166.0 L827.6 146.0 L829.3 162.0 L830.0 158.0 L831.6 172.9 L833.5 160.0 L834.2 163.0 L836.9 135.7 L838.6 150.0 L839.4 148.0 L842.0 180.0 L842.8 178.0 L844.9 201.4 L845.7 199.2" fill="none" stroke="#007f00" stroke-width="3.8" stroke-linejoin="round" stroke-linecap="butt" clip-path="url(#band)"/>
<text transform="translate(82.00 371.9) scale(1 1.07)" font-size="20" text-anchor="middle" fill="#262626">0</text>
<text transform="translate(300.00 371.9) scale(1 1.07)" font-size="20" text-anchor="middle" fill="#262626">0.05</text>
<text transform="translate(518.00 371.9) scale(1 1.07)" font-size="20" text-anchor="middle" fill="#262626">0.1</text>
<text transform="translate(736.00 371.9) scale(1 1.07)" font-size="20" text-anchor="middle" fill="#262626">0.15</text>
<text transform="translate(954.00 371.9) scale(1 1.07)" font-size="20" text-anchor="middle" fill="#262626">0.2</text>
<text transform="translate(1172.00 371.9) scale(1 1.07)" font-size="20" text-anchor="middle" fill="#262626">0.25</text>
<text transform="translate(75 32.80) scale(1 1.07)" font-size="20" text-anchor="end" fill="#262626">0.15</text>
<text transform="translate(75 78.66) scale(1 1.07)" font-size="20" text-anchor="end" fill="#262626">0.1</text>
<text transform="translate(75 124.51) scale(1 1.07)" font-size="20" text-anchor="end" fill="#262626">0.05</text>
<text transform="translate(75 170.37) scale(1 1.07)" font-size="20" text-anchor="end" fill="#262626">0</text>
<text transform="translate(75 216.23) scale(1 1.07)" font-size="20" text-anchor="end" fill="#262626">-0.05</text>
<text transform="translate(75 262.09) scale(1 1.07)" font-size="20" text-anchor="end" fill="#262626">-0.1</text>
<text transform="translate(75 307.94) scale(1 1.07)" font-size="20" text-anchor="end" fill="#262626">-0.15</text>
<text transform="translate(75 353.80) scale(1 1.07)" font-size="20" text-anchor="end" fill="#262626">-0.2</text>
<text transform="translate(627.2 17.9) scale(1 1.04)" font-size="21.7" font-weight="bold" text-anchor="middle" fill="#111">GEN-005-034-0003</text>
<text transform="translate(627.3 397.7) scale(1 1.03)" font-size="21.8" text-anchor="middle" fill="#262626">Time (s)</text>
<text transform="translate(18.9 186.3) rotate(-90)" font-size="22" text-anchor="middle" fill="#262626">Amplitude</text>
</svg>
</body></html>
